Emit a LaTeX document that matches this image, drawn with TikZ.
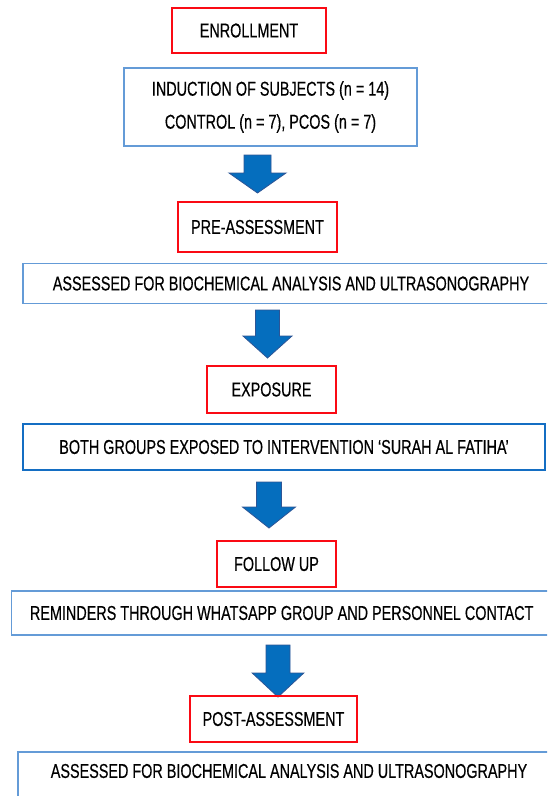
\documentclass[tikz,border=0pt]{standalone}
\usepackage{fontspec}
\setmainfont[FakeStretch=0.72,FakeBold=0.4]{Liberation Sans}
\definecolor{boxred}{RGB}{250,10,20}
\definecolor{boxblue}{RGB}{100,155,215}
\definecolor{deepblue}{RGB}{20,110,195}
\definecolor{arrowfill}{RGB}{5,110,190}
\definecolor{arrowedge}{RGB}{45,85,150}
\tikzset{
  stage/.style={draw=boxred,line width=1.5pt,minimum height=45pt,inner sep=0pt,font=\fontsize{20}{33}\selectfont},
  detail/.style={draw=boxblue,line width=1.5pt,inner sep=0pt,align=center,font=\fontsize{20}{33}\selectfont},
}
% block arrow: x, top, head start, tip, half shaft, half head
\newcommand{\downblock}[6]{%
  \filldraw[fill=arrowfill,draw=arrowedge,line width=0.8pt,line join=miter]
    (#1-#5,#2)--(#1+#5,#2)--(#1+#5,#3)--(#1+#6,#3)--(#1,#4)--(#1-#6,#3)--(#1-#5,#3)--cycle;}
\begin{document}
\begin{tikzpicture}[x=1pt,y=-1pt]
        \clip (0,0) rectangle (547,796);
        \fill[white] (0,0) rectangle (547,796);
        \node[stage,minimum width=154pt] (enrol) at (249,30.5) {ENROLLMENT};
        \node[detail,minimum width=293pt,minimum height=78pt] (induct) at (270.5,107) {INDUCTION OF SUBJECTS (n = 14)\\CONTROL (n = 7), PCOS (n = 7)};
        \downblock{257.5}{155}{173}{193}{13.5}{28.5}
        \node[stage,minimum width=159pt,minimum height=50pt] (pre) at (257.5,227) {PRE-ASSESSMENT};
        \node[detail,minimum width=536pt,minimum height=40pt] (preassess) at (291,283.5) {ASSESSED FOR BIOCHEMICAL ANALYSIS AND ULTRASONOGRAPHY};
        \downblock{267.5}{310}{336}{358}{12}{24.5}
        \node[stage,minimum width=129pt,minimum height=47pt] (expo) at (271.5,389.5) {EXPOSURE};
        \node[detail,draw=deepblue,minimum width=522pt,minimum height=46pt] (expogroups) at (284,447) {BOTH GROUPS EXPOSED TO INTERVENTION ‘SURAH AL FATIHA’};
        \downblock{269}{482}{507}{528}{12.5}{26.5}
        \node[stage,minimum width=119pt,minimum height=46pt] (follow) at (276.5,564) {FOLLOW UP};
        \node[detail,minimum width=540pt,minimum height=44pt] (remind) at (281.7,613) {REMINDERS THROUGH WHATSAPP GROUP AND PERSONNEL CONTACT};
        \downblock{278}{645}{673}{697}{12}{25.8}
        \node[stage,minimum width=167pt,minimum height=46pt] (post) at (273.5,719) {POST-ASSESSMENT};
        \node[detail,minimum width=542pt,minimum height=70pt,anchor=north] (postassess) at (289,751) {};
        \node[font=\fontsize{20}{33}\selectfont] (postassesstext) at (289,771) {ASSESSED FOR BIOCHEMICAL ANALYSIS AND ULTRASONOGRAPHY};
\end{tikzpicture}
\end{document}
